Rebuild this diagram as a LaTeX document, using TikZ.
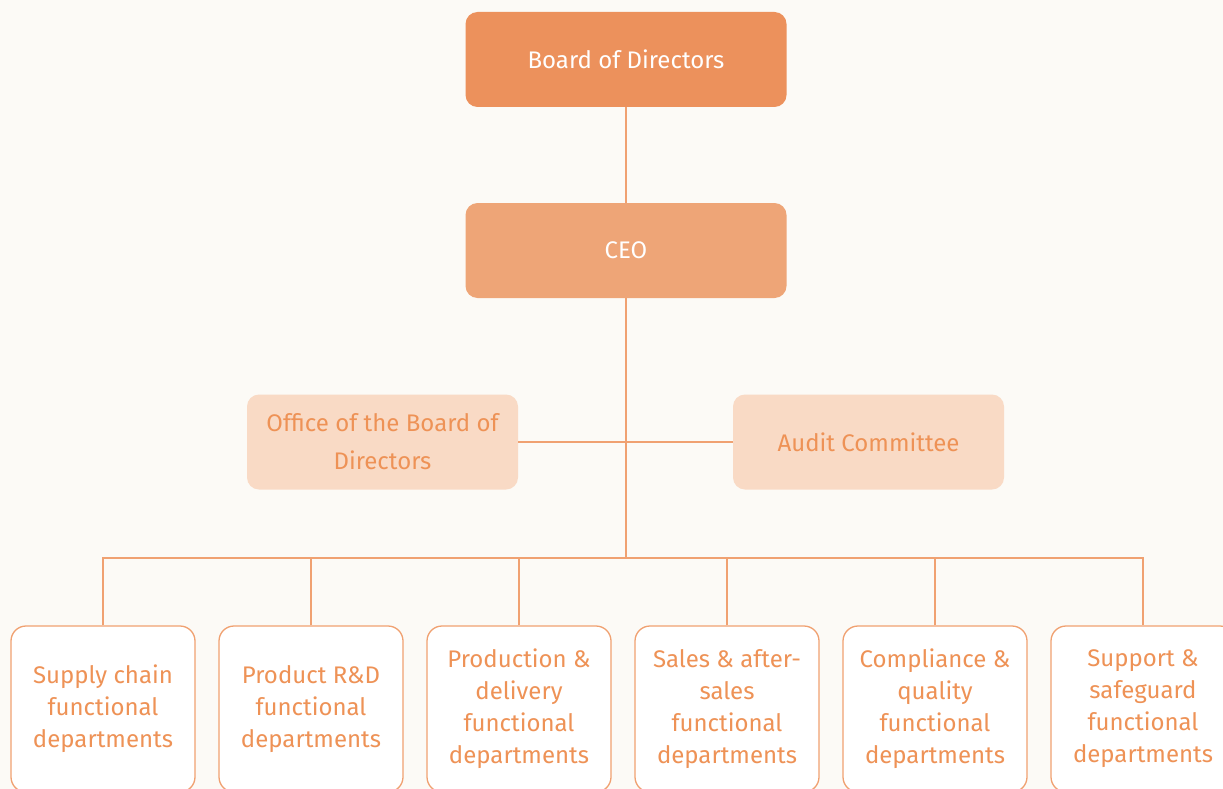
\documentclass[tikz,border=0pt]{standalone}
\usepackage{fontspec}
\setmainfont{Fira Sans}
\definecolor{bg}{HTML}{FCFAF6}
\definecolor{board}{HTML}{EC915C}
\definecolor{ceo}{HTML}{EEA577}
\definecolor{mid}{HTML}{F9DAC5}
\definecolor{txt}{HTML}{EE9256}
\definecolor{ln}{HTML}{F0A171}
\begin{document}
\begin{tikzpicture}[x=1pt,y=-1pt,
  top/.style={rounded corners=12pt, minimum width=321pt, minimum height=95pt, inner sep=0pt, text=white, font=\fontsize{24}{32}\selectfont},
  midbox/.style={rounded corners=12pt, fill=mid, minimum width=271pt, minimum height=95pt, inner sep=0pt, text=txt, align=center, font=\fontsize{24}{38}\selectfont},
  dept/.style={rounded corners=15pt, draw=ln, line width=1.3pt, fill=white, minimum width=184pt, minimum height=166pt, inner sep=0pt, text=txt, align=center, font=\fontsize{24}{32}\selectfont},
  conn/.style={color=ln, line width=1.6pt}]
\clip (0,0) rectangle (1223,789);
\fill[bg] (0,0) rectangle (1223,789);
\node[top, fill=board] (board) at (626,59.5) {Board of Directors};
\node[top, fill=ceo] (ceo) at (626,250.5) {CEO};
\node[midbox] (office) at (382.5,442) {Office of the Board of\\Directors};
\node[midbox] (audit) at (868.5,442) {Audit Committee};
\node[dept] (d1) at (103,709) {Supply chain\\functional\\departments};
\node[dept] (d2) at (311,709) {Product R\&D\\functional\\departments};
\node[dept] (d3) at (519,709) {Production \&\\delivery\\functional\\departments};
\node[dept] (d4) at (727,709) {Sales \& after-\\sales\\functional\\departments};
\node[dept] (d5) at (935,709) {Compliance \&\\quality\\functional\\departments};
\node[dept] (d6) at (1143,709) {Support \&\\safeguard\\functional\\departments};
\coordinate (bus) at (626,558);
\draw[conn] (board.south) -- (ceo.north);
\draw[conn] (ceo.south) -- (bus);
\draw[conn] (office.east) -- (audit.west);
\draw[conn] (d1.north) |- (bus) -| (d6.north);
\foreach \d in {d2,d3,d4,d5} { \draw[conn] (\d.north) -- (\d.north |- bus); }
\end{tikzpicture}
\end{document}
